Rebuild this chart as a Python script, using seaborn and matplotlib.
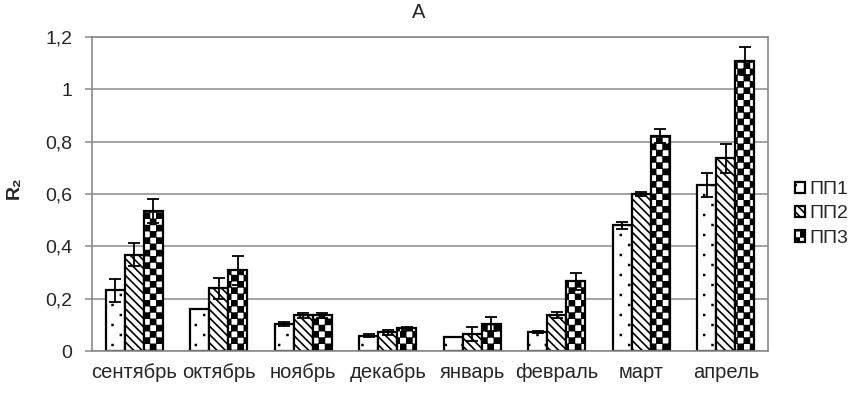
import warnings
import numpy as np
import pandas as pd
import matplotlib
matplotlib.use('Agg')
import matplotlib.pyplot as plt
import matplotlib.hatch as mhatch
from matplotlib.path import Path
from matplotlib.ticker import MultipleLocator, FuncFormatter, FixedLocator
import seaborn as sns

warnings.filterwarnings('ignore')

# values
months = ['сентябрь', 'октябрь', 'ноябрь', 'декабрь', 'январь', 'февраль', 'март', 'апрель']
series = ['ПП1', 'ПП2', 'ПП3']
pp1 = [0.233, 0.159, 0.103, 0.059, 0.053, 0.072, 0.480, 0.635]
pp2 = [0.368, 0.240, 0.136, 0.072, 0.065, 0.138, 0.600, 0.736]
pp3 = [0.535, 0.308, 0.137, 0.086, 0.103, 0.266, 0.822, 1.109]
pp1_err = [0.044, 0.0, 0.009, 0.006, 0.0, 0.005, 0.013, 0.045]
pp2_err = [0.045, 0.040, 0.008, 0.010, 0.028, 0.010, 0.009, 0.055]
pp3_err = [0.044, 0.054, 0.009, 0.005, 0.028, 0.032, 0.027, 0.054]


def _square(vertices, codes, k, x0, y0, x1, y1):
    vertices[k:k + 5] = [(x0, y0), (x1, y0), (x1, y1), (x0, y1), (x0, y0)]
    codes[k:k + 5] = [Path.MOVETO, Path.LINETO, Path.LINETO, Path.LINETO, Path.CLOSEPOLY]


# checkerboard hatch (Excel style), registered as 'c'
class CheckerHatch(mhatch.HatchPatternBase):
    filled = True

    def __init__(self, hatch, density):
        self.n = 16 if 'c' in hatch else 0
        self.num_vertices = (self.n * self.n // 2) * 5

    def set_vertices_and_codes(self, vertices, codes):
        s = 1.0 / self.n
        d = 0.006
        k = 0
        for i in range(self.n):
            for j in range(self.n):
                if (i + j) % 2:
                    continue
                _square(vertices, codes, k, i * s + d, j * s + d, (i + 1) * s - d, (j + 1) * s - d)
                k += 5


# sparse staggered dots, registered as 'd'
class SparseDots(mhatch.HatchPatternBase):
    filled = True

    def __init__(self, hatch, density):
        self.rows = 10 if 'd' in hatch else 0
        self.cols = 6
        self.num_vertices = self.rows * self.cols * 5

    def set_vertices_and_codes(self, vertices, codes):
        r = 0.004
        k = 0
        for j in range(self.rows):
            y = (j + 0.5) / self.rows
            shift = 0.5 if j % 2 else 0.0
            for i in range(self.cols):
                x = (i + 0.25 + shift) / self.cols
                _square(vertices, codes, k, x - r, y - r, x + r, y + r)
                k += 5


mhatch._hatch_types.extend([CheckerHatch, SparseDots])

sns.set_style('white')
plt.rcParams['font.family'] = ['Liberation Sans', 'DejaVu Sans']
plt.rcParams['hatch.linewidth'] = 1.2
plt.rcParams['hatch.color'] = 'black'

df = pd.DataFrame({
    'month': months * 3,
    'series': [s for s in series for _ in months],
    'value': pp1 + pp2 + pp3,
})
errs = [pp1_err, pp2_err, pp3_err]
hatches = ['d', '\\\\\\\\', 'c']

fig = plt.figure(figsize=(8.58, 3.94), dpi=100)
ax = fig.add_axes([92 / 858, 1 - 351 / 394, 676 / 858, 314 / 394])

sns.barplot(data=df, x='month', y='value', hue='series', order=months,
            hue_order=series, palette=['white'] * 3, width=0.68,
            edgecolor='black', linewidth=1.6, errorbar=None, legend=False, ax=ax)

for cont, h, err in zip(ax.containers, hatches, errs):
    xs, ys, es = [], [], []
    for p, e in zip(cont.patches, err):
        p.set_hatch(h)
        p.set_zorder(2)
        if e > 0:
            xs.append(p.get_x() + p.get_width() / 2)
            ys.append(p.get_height())
            es.append(e)
    ax.errorbar(xs, ys, yerr=es, fmt='none', ecolor='black', elinewidth=1.3,
                capsize=4, capthick=1.3, zorder=3)

ax.set_xlim(-0.5, len(months) - 0.5)
ax.set_ylim(0, 1.2)
ax.yaxis.set_major_locator(MultipleLocator(0.2))
ax.yaxis.set_major_formatter(FuncFormatter(lambda v, _: f'{v:.1f}'.rstrip('0').rstrip('.').replace('.', ',')))
ax.yaxis.grid(True, color='#8a8a8a', linewidth=1.1)
ax.set_axisbelow(True)

ax.xaxis.set_minor_locator(FixedLocator(np.arange(-0.5, len(months), 1.0)))
ax.tick_params(axis='x', which='major', length=0, pad=9, labelsize=14.5)
ax.tick_params(axis='x', which='minor', length=5, width=1.1, color='#8a8a8a', direction='out')
ax.tick_params(axis='y', length=5, width=1.1, color='#8a8a8a', direction='out',
               pad=9, labelsize=14, left=True)

for side in ['left', 'bottom', 'right', 'top']:
    ax.spines[side].set_color('#8a8a8a')
    ax.spines[side].set_linewidth(1.2)
ax.spines['bottom'].set_zorder(4)

ax.set_xlabel('')
ax.set_ylabel('R₂', fontsize=14, fontweight='bold')
ax.yaxis.set_label_coords(-0.103, 0.52)

fig.text(419 / 858, 1 - 13 / 394, 'А', ha='center', va='center', fontsize=14.5)

ax.legend(ax.containers, series, loc='center left', bbox_to_anchor=(795 / 858, 1 - 214 / 394),
          bbox_transform=fig.transFigure, frameon=False, fontsize=14,
          handlelength=0.5, handleheight=0.5, handletextpad=0.25,
          labelspacing=0.38, borderaxespad=0, borderpad=0)

fig.savefig('out.png', dpi=100)
